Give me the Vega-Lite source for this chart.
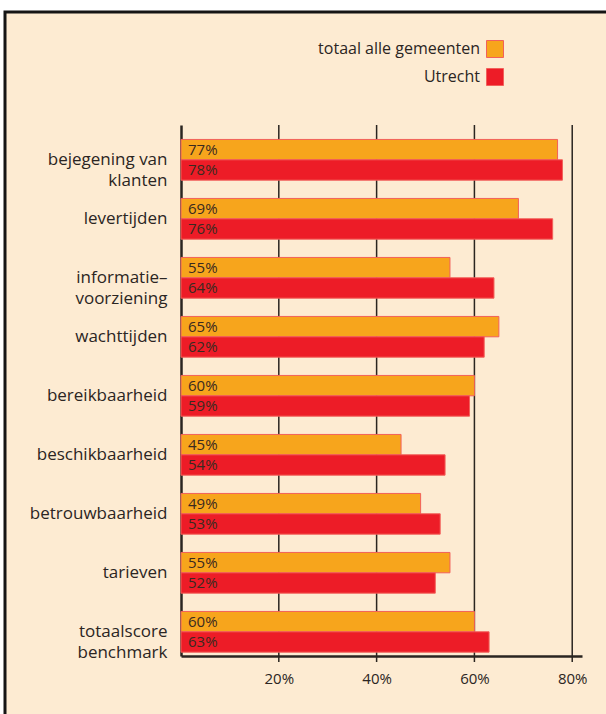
{
  "$schema": "https://vega.github.io/schema/vega-lite/v6.json",
  "autosize": "none",
  "padding": {"left": 5, "top": 12, "right": -5, "bottom": -5},
  "width": 606,
  "height": 707,
  "background": "white",
  "config": {
    "view": {"fill": "#FDEBD2", "stroke": "#151515", "strokeWidth": 3},
    "font": "Open Sans"
  },
  "datasets": {
    "scores": [
      {"category": "bejegening van klanten", "series": "totaal alle gemeenten", "value": 0.77},
      {"category": "bejegening van klanten", "series": "Utrecht", "value": 0.78},
      {"category": "levertijden", "series": "totaal alle gemeenten", "value": 0.69},
      {"category": "levertijden", "series": "Utrecht", "value": 0.76},
      {"category": "informatievoorziening", "series": "totaal alle gemeenten", "value": 0.55},
      {"category": "informatievoorziening", "series": "Utrecht", "value": 0.64},
      {"category": "wachttijden", "series": "totaal alle gemeenten", "value": 0.65},
      {"category": "wachttijden", "series": "Utrecht", "value": 0.62},
      {"category": "bereikbaarheid", "series": "totaal alle gemeenten", "value": 0.60},
      {"category": "bereikbaarheid", "series": "Utrecht", "value": 0.59},
      {"category": "beschikbaarheid", "series": "totaal alle gemeenten", "value": 0.45},
      {"category": "beschikbaarheid", "series": "Utrecht", "value": 0.54},
      {"category": "betrouwbaarheid", "series": "totaal alle gemeenten", "value": 0.49},
      {"category": "betrouwbaarheid", "series": "Utrecht", "value": 0.53},
      {"category": "tarieven", "series": "totaal alle gemeenten", "value": 0.55},
      {"category": "tarieven", "series": "Utrecht", "value": 0.52},
      {"category": "totaalscore benchmark", "series": "totaal alle gemeenten", "value": 0.60},
      {"category": "totaalscore benchmark", "series": "Utrecht", "value": 0.63}
    ],
    "gridlines": [
      {"tick": 0.2}, {"tick": 0.4}, {"tick": 0.6}, {"tick": 0.8}
    ]
  },
  "resolve": {"scale": {"y": "independent"}},
  "layer": [
    {
      "data": {"name": "gridlines"},
      "mark": {"type": "rule", "color": "#2a2520", "strokeWidth": 1.5},
      "encoding": {
        "x": {
          "field": "tick",
          "type": "quantitative",
          "scale": {"domain": [0, 0.82], "range": [176, 577], "nice": false},
          "axis": {
            "orient": "bottom",
            "offset": -63,
            "title": null,
            "values": [0.2, 0.4, 0.6, 0.8],
            "format": ".0%",
            "grid": false,
            "ticks": false,
            "domain": true,
            "domainColor": "#2a2520",
            "domainWidth": 2.5,
            "labelPadding": 15,
            "labelFontSize": 15,
            "labelColor": "#2b2523"
          }
        },
        "y": {"datum": 0, "type": "quantitative", "scale": {"domain": [0, 1], "range": [113, 650]}, "axis": null},
        "y2": {"datum": 1}
      }
    },
    {
      "data": {"name": "scores"},
      "encoding": {
        "y": {
          "field": "category",
          "type": "nominal",
          "sort": null,
          "scale": {"range": [113, 644], "paddingInner": 0.31, "paddingOuter": 0.155, "align": 0.79},
          "axis": {
            "orient": "left",
            "offset": -176,
            "title": null,
            "ticks": false,
            "grid": false,
            "domain": true,
            "domainColor": "#2a2520",
            "domainWidth": 2.5,
            "labelPadding": 14,
            "labelFontSize": 17,
            "labelColor": "#2b2523",
            "labelLineHeight": 21,
            "labelLimit": 300,
            "labelExpr": "datum.label == 'bejegening van klanten' ? ['bejegening van', 'klanten'] : datum.label == 'informatievoorziening' ? ['informatie–', 'voorziening'] : datum.label == 'totaalscore benchmark' ? ['totaalscore', 'benchmark'] : datum.label"
          }
        },
        "yOffset": {"field": "series", "type": "nominal", "sort": null, "scale": {"paddingInner": 0, "paddingOuter": 0}}
      },
      "layer": [
        {
          "mark": {"type": "bar", "stroke": "#F2605A", "strokeWidth": 1},
          "encoding": {
            "x": {
              "field": "value",
              "type": "quantitative",
              "scale": {"domain": [0, 0.82], "range": [176, 577], "nice": false},
              "axis": {
                "orient": "bottom",
                "offset": -63,
                "title": null,
                "values": [0.2, 0.4, 0.6, 0.8],
                "format": ".0%",
                "grid": false,
                "ticks": false,
                "domain": true,
                "domainColor": "#2a2520",
                "domainWidth": 2.5,
                "labelPadding": 15,
                "labelFontSize": 15,
                "labelColor": "#2b2523"
              }
            },
            "color": {
              "field": "series",
              "type": "nominal",
              "sort": null,
              "scale": {"domain": ["totaal alle gemeenten", "Utrecht"], "range": ["#F7A51C", "#ED1C27"]},
              "legend": {
                "orient": "none",
                "legendX": 481,
                "legendY": 28,
                "title": null,
                "padding": 0,
                "labelAlign": "right",
                "labelOffset": -24,
                "labelLimit": 400,
                "symbolType": "square",
                "symbolSize": 289,
                "symbolOpacity": 1,
                "symbolStrokeColor": "#F2605A",
                "symbolStrokeWidth": 1,
                "labelFontSize": 16,
                "labelColor": "#2b2523",
                "rowPadding": 6
              }
            }
          }
        },
        {
          "mark": {"type": "text", "align": "left", "baseline": "middle", "dx": 7, "fontSize": 15, "color": "#3a2a20"},
          "encoding": {
            "x": {"datum": 0, "type": "quantitative"},
            "text": {"field": "value", "type": "quantitative", "format": ".0%"}
          }
        }
      ]
    }
  ]
}
